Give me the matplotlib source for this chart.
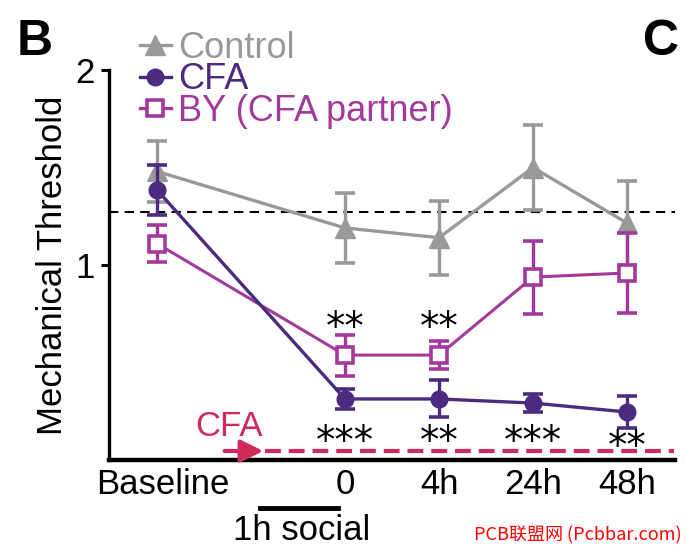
import numpy as np
import matplotlib.pyplot as plt
import matplotlib.transforms as mtransforms
from matplotlib.lines import Line2D

plt.rcParams['font.family'] = ['Liberation Sans', 'DejaVu Sans']

# time points (x position on the axis) and labels
x_pos = [0, 2, 3, 4, 5]
x_labels = ['Baseline', '0', '4h', '24h', '48h']

# mechanical threshold, mean and error
control = [1.48, 1.19, 1.14, 1.50, 1.215]
control_err = [0.155, 0.18, 0.19, 0.22, 0.215]
cfa = [1.385, 0.313, 0.313, 0.292, 0.246]
cfa_err = [0.13, 0.05, 0.095, 0.045, 0.082]
by = [1.11, 0.538, 0.538, 0.938, 0.959]
by_err = [0.095, 0.105, 0.072, 0.187, 0.207]

baseline_level = 1.27

# significance marks
upper_stars = ['**', '**']
upper_x = [2, 3]
upper_y = [0.675, 0.675]
lower_stars = ['***', '**', '***', '**']
lower_x = [2, 3, 4, 5]
lower_y = [0.092, 0.092, 0.092, 0.066]

c_ctrl = '#999999'
c_cfa = '#4b2b80'
c_by = '#a3399d'
c_red = '#d02a5a'

fig = plt.figure(figsize=(6.86, 5.5), dpi=100)
ax = fig.add_axes([109/686, 1 - 460/550, (675-109)/686, 390/550])

ax.axhline(baseline_level, color='black', lw=1.5, dashes=(4.5, 3), zorder=0)

ax.errorbar(x_pos, control, yerr=control_err, color=c_ctrl, lw=2.4, marker='^',
            ms=15, capsize=7.5, capthick=2.6, elinewidth=2.4, zorder=1)
ax.errorbar(x_pos, by, yerr=by_err, color=c_by, lw=2.2, marker='s', ms=12,
            mfc='white', mec=c_by, mew=2.6, capsize=7.5, capthick=2.6,
            elinewidth=2.4, zorder=2)
ax.errorbar(x_pos, cfa, yerr=cfa_err, color=c_cfa, lw=2.4, marker='o', ms=12,
            capsize=7.5, capthick=2.6, elinewidth=2.4, zorder=3)

for s, x, y in zip(upper_stars, upper_x, upper_y):
    ax.text(x, y, s, ha='center', va='center', fontsize=28, family='DejaVu Sans')
for s, x, y in zip(lower_stars, lower_x, lower_y):
    ax.text(x, y, s, ha='center', va='center', fontsize=28, family='DejaVu Sans')

# CFA injection arrow and period
ax.annotate('', xy=(1.13, 0.046), xytext=(0.72, 0.046),
            arrowprops=dict(arrowstyle='-|>', lw=3, color=c_red, mutation_scale=34,
                            shrinkA=0, shrinkB=0), zorder=4)
ax.plot([1.15, 5.5], [0.046, 0.046], color=c_red, lw=3, dashes=(3.8, 1.9), zorder=4)
ax.text(0.77, 0.17, 'CFA', color=c_red, fontsize=25, ha='center', va='center')

# 1h social bar
tr = ax.get_xaxis_transform()
ax.plot([1.10, 1.93], [-0.123, -0.123], color='black', lw=3.5, transform=tr, clip_on=False)
ax.text(1.54, -0.18, '1h social', fontsize=25, ha='center', va='center', transform=tr)

ax.set_xlim(-0.51, 5.51)
ax.set_ylim(0, 2)
ax.set_yticks([1, 2])
ax.set_yticklabels(['1', '2'])
ax.set_xticks(x_pos)
ax.set_xticklabels(x_labels)
ax.tick_params(axis='x', length=0, pad=6, labelsize=25)
ax.tick_params(axis='y', length=6, width=2.2, pad=4, labelsize=25)
# "Baseline" sits a little right of its tick
lbl = ax.get_xticklabels()[0]
lbl.set_transform(lbl.get_transform() +
                  mtransforms.ScaledTranslation(6/100, 0, fig.dpi_scale_trans))
ax.set_ylabel('Mechanical Threshold', fontsize=25)
ax.yaxis.set_label_coords(-0.07, 0.5)
for side in ['top', 'right']:
    ax.spines[side].set_visible(False)
ax.spines['left'].set_linewidth(2.4)
ax.spines['bottom'].set_linewidth(3.2)

handles = [
    Line2D([], [], color=c_ctrl, lw=2.4, marker='^', ms=15),
    Line2D([], [], color=c_cfa, lw=2.4, marker='o', ms=12),
    Line2D([], [], color=c_by, lw=2.4, marker='s', ms=12, mfc='white', mew=2.6),
]
ax.legend(handles, ['Control', 'CFA', 'BY (CFA partner)'], loc='upper left',
          bbox_to_anchor=(140/686, 1 - 31/550), bbox_transform=fig.transFigure,
          frameon=False, fontsize=26, labelcolor=[c_ctrl, c_cfa, c_by],
          handlelength=0.85, handletextpad=0.2, labelspacing=-0.1, borderpad=0,
          borderaxespad=0)

fig.text(17/686, 1 - 42/550, 'B', fontsize=36, fontweight='bold', va='center', ha='left')
fig.text(643/686, 1 - 42/550, 'C', fontsize=36, fontweight='bold', va='center', ha='left')
fig.text(682/686, 1 - 535/550, 'PCB联盟网 (Pcbbar.com)', color='red', fontsize=13,
         ha='right', va='center', family=['Noto Sans CJK SC', 'DejaVu Sans'])

fig.savefig('out.png', dpi=100)
